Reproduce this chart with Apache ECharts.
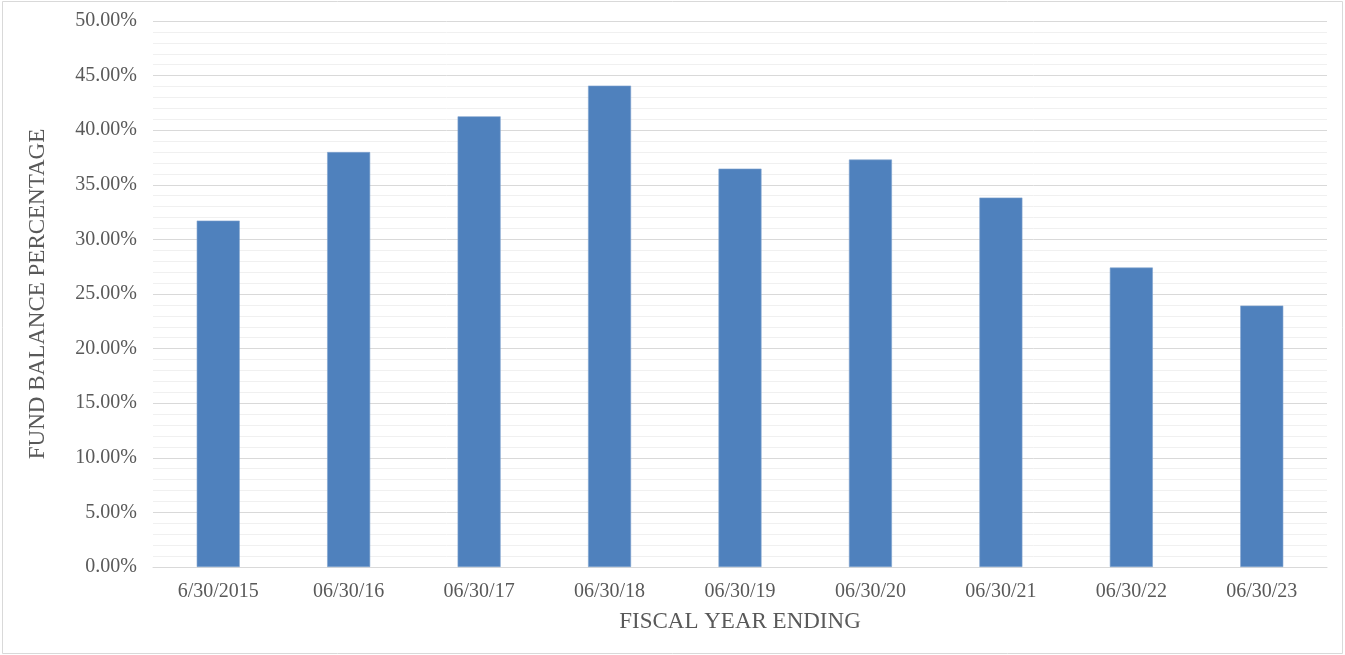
<!DOCTYPE html>
<html>
<head>
<meta charset="utf-8">
<script src="https://cdn.jsdelivr.net/npm/echarts@6/dist/echarts.min.js"></script>
<style>
html,body{margin:0;padding:0;background:#fff;}
#chart{width:1345px;height:655px;}
</style>
</head>
<body>
<div id="chart"></div>
<script>
const categories = ['6/30/2015','06/30/16','06/30/17','06/30/18','06/30/19','06/30/20','06/30/21','06/30/22','06/30/23'];
const fundBalancePct = [31.72, 38.00, 41.27, 44.08, 36.48, 37.31, 33.83, 27.42, 23.94];
const xAxisTitle = 'FISCAL YEAR ENDING';
const yAxisTitle = 'FUND BALANCE PERCENTAGE';

const chart = echarts.init(document.getElementById('chart'), null, {renderer:'canvas'});
const font = '"Liberation Serif", "Times New Roman", serif';
chart.setOption({
  animation: false,
  backgroundColor: '#fff',
  graphic: [{
    type: 'rect', silent: true, z: -10,
    shape: {x: 2.5, y: 1.5, width: 1340, height: 652},
    style: {fill: 'none', stroke: '#d9d9d9', lineWidth: 1}
  }],
  grid: {left: 153, right: 18, top: 21, bottom: 88, containLabel: false},
  xAxis: {
    type: 'category',
    data: categories,
    axisLine: {show: true, lineStyle: {color: '#d9d9d9', width: 1}},
    axisTick: {show: false},
    axisLabel: {color: '#595959', fontFamily: font, fontSize: 20, margin: 15},
    name: xAxisTitle,
    nameLocation: 'middle',
    nameGap: 43,
    nameTextStyle: {color: '#595959', fontFamily: font, fontSize: 23}
  },
  yAxis: {
    type: 'value',
    min: 0, max: 50, interval: 5,
    axisLine: {show: false},
    axisTick: {show: false},
    axisLabel: {color: '#595959', fontFamily: font, fontSize: 20, margin: 16,
      formatter: v => v.toFixed(2) + '%'},
    splitLine: {show: true, lineStyle: {color: '#d9d9d9', width: 1}},
    minorTick: {show: false, splitNumber: 5},
    minorSplitLine: {show: true, lineStyle: {color: '#f0f0f0', width: 1}},
    name: yAxisTitle,
    nameLocation: 'middle',
    nameGap: 104,
    nameRotate: 90,
    nameTextStyle: {color: '#595959', fontFamily: font, fontSize: 23}
  },
  series: [{
    type: 'bar',
    data: fundBalancePct,
    barWidth: 43,
    itemStyle: {color: '#4f81bd', borderColor: '#7fa3cf', borderWidth: 0.6}
  }]
});
</script>
</body>
</html>
